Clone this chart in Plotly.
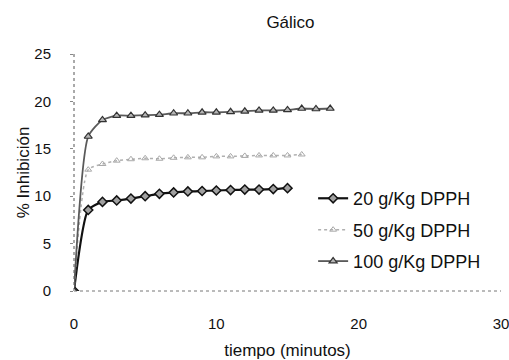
import plotly.graph_objects as go

# Data
t20 = [0, 1, 2, 3, 4, 5, 6, 7, 8, 9, 10, 11, 12, 13, 14, 15]
y20 = [0, 8.55, 9.4, 9.55, 9.75, 10.0, 10.25, 10.4, 10.5, 10.55, 10.6, 10.65, 10.7, 10.7, 10.75, 10.85]

t50 = [0, 1, 2, 3, 4, 5, 6, 7, 8, 9, 10, 11, 12, 13, 14, 15, 16]
y50 = [0, 12.8, 13.4, 13.75, 13.9, 14.0, 13.95, 14.05, 14.1, 14.1, 14.2, 14.2, 14.25, 14.3, 14.3, 14.3, 14.4]

t100 = [0, 1, 2, 3, 4, 5, 6, 7, 8, 9, 10, 11, 12, 13, 14, 15, 16, 17, 18]
y100 = [0, 16.3, 18.05, 18.5, 18.5, 18.55, 18.6, 18.75, 18.75, 18.85, 18.85, 18.9, 18.95, 19.05, 19.05, 19.1, 19.25, 19.2, 19.25]

names = ["20 g/Kg DPPH", "50 g/Kg DPPH", "100 g/Kg DPPH"]
x_ticks = [0, 10, 20, 30]
y_ticks = [0, 5, 10, 15, 20, 25]

FONT = "Liberation Sans, Arial, sans-serif"

fig = go.Figure()
fig.add_trace(go.Scatter(
    x=t20, y=y20, name=names[0], mode="lines+markers", legendgroup="a",
    line=dict(color="#111111", width=2.2, shape="spline", smoothing=0.6),
    marker=dict(symbol="diamond", size=7, color="#a0a0a0", line=dict(color="#111111", width=1.5)),
))
fig.add_trace(go.Scatter(
    x=t50, y=y50, name=names[1], mode="lines+markers", legendgroup="b",
    line=dict(color="#b0b0b0", width=1.5, dash="dot", shape="spline", smoothing=0.6),
    marker=dict(symbol="triangle-up-open", size=6, color="#a8a8a8", line=dict(width=1)),
))
fig.add_trace(go.Scatter(
    x=t100, y=y100, name=names[2], mode="lines+markers", legendgroup="c",
    line=dict(color="#5a5a5a", width=1.8, shape="spline", smoothing=0.6),
    marker=dict(symbol="triangle-up", size=7, color="#b5b5b5", line=dict(color="#333333", width=1.2)),
))

fig.update_layout(
    width=509, height=360,
    margin=dict(l=74, r=8, t=54, b=69, autoexpand=False),
    paper_bgcolor="white", plot_bgcolor="white",
    font=dict(family=FONT, size=14, color="#111111"),
    title=dict(text="Gálico", font=dict(size=17, color="#111111"),
               x=0.507, xref="paper", xanchor="center",
               y=1 - 22 / 360, yref="container", yanchor="middle"),
    showlegend=True,
    legend=dict(x=0.56, xanchor="left", y=0.468, yanchor="top",
                font=dict(size=18), tracegroupgap=5, bgcolor="rgba(0,0,0,0)"),
    shapes=[
        dict(type="line", xref="paper", yref="paper", x0=0, x1=0, y0=0, y1=1,
             line=dict(color="#555555", width=1, dash="dot"), layer="below"),
        dict(type="line", xref="paper", yref="paper", x0=0, x1=1, y0=0, y1=0,
             line=dict(color="#777777", width=1, dash="dot"), layer="below"),
    ],
)
fig.update_xaxes(range=[0, 30], tickvals=x_ticks, ticktext=[str(v) for v in x_ticks],
                 showgrid=False, zeroline=False, showline=False, ticks="", automargin=False,
                 ticklabelstandoff=22, ticklabeloverflow="allow", tickfont=dict(size=15),
                 title=dict(text="tiempo (minutos)", font=dict(size=17), standoff=13))
fig.update_yaxes(range=[0, 25], tickvals=y_ticks, ticktext=[str(v) for v in y_ticks],
                 showgrid=False, zeroline=False, showline=False, automargin=False,
                 ticks="outside", ticklen=3, tickcolor="#888888",
                 ticklabelstandoff=16, tickfont=dict(size=15),
                 title=dict(text="% Inhibición", font=dict(size=17), standoff=0))

fig.write_html("out.html")
